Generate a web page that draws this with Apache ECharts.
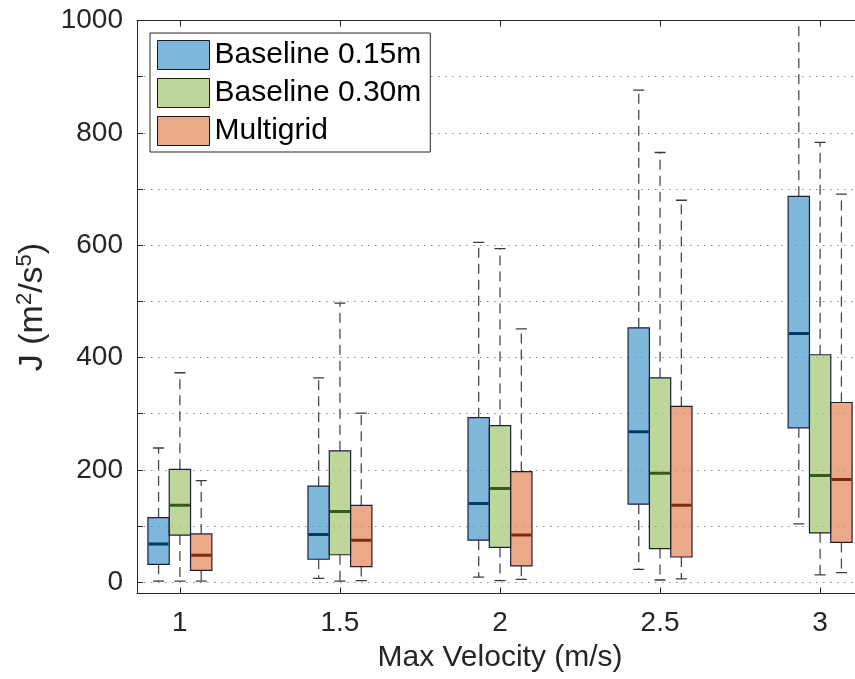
<!DOCTYPE html>
<html>
<head>
<meta charset="utf-8">
<script src="https://cdn.jsdelivr.net/npm/echarts@6/dist/echarts.min.js"></script>
<style>html,body{margin:0;padding:0;background:#fff}#c{width:855px;height:679px}</style>
</head>
<body>
<div id="c"></div>
<script>
// ---- data ----
const categories = ['1', '1.5', '2', '2.5', '3'];
const xValues = [1, 1.5, 2, 2.5, 3];
const seriesNames = ['Baseline 0.15m', 'Baseline 0.30m', 'Multigrid'];
// each row: [lower whisker, Q1, median, Q3, upper whisker]
const baseline015 = [
  [2, 32, 68, 115, 239],
  [7, 41, 85, 171, 364],
  [9, 75, 140, 293, 605],
  [23, 139, 268, 453, 876],
  [104, 275, 443, 687, 1090]
];
const baseline030 = [
  [2, 84, 137, 201, 373],
  [2, 49, 126, 234, 497],
  [3, 62, 167, 279, 594],
  [4, 60, 194, 364, 765],
  [13, 88, 190, 405, 783]
];
const multigrid = [
  [2, 21, 48, 86, 181],
  [3, 28, 75, 137, 301],
  [5, 29, 84, 197, 451],
  [6, 45, 137, 313, 680],
  [17, 71, 183, 320, 691]
];
const yTickLabels = [0, 200, 400, 600, 800, 1000];
const yTicks = [0, 100, 200, 300, 400, 500, 600, 700, 800, 900, 1000];

// ---- styling ----
const fills = ['rgba(71,151,205,0.7)', 'rgba(161,198,111,0.7)', 'rgba(228,132,88,0.7)'];
const medians = ['#003C64', '#3B5A1A', '#7A2C0C'];
const offsets = [-0.0666, 0, 0.0666];
const BOX_W = 0.0666;
const textColor = '#262626';
const FONT = '"Liberation Sans", Arial, Helvetica, sans-serif';

function makeRender(si) {
  return function (params, api) {
    const x = api.value(0) + offsets[si];
    const lo = api.value(1), q1 = api.value(2), med = api.value(3), q3 = api.value(4), hi = api.value(5);
    const pHi = api.coord([x, hi]), pQ3 = api.coord([x, q3]), pMed = api.coord([x, med]);
    const pQ1 = api.coord([x, q1]), pLo = api.coord([x, lo]);
    const cx = pHi[0];
    const halfW = api.size([BOX_W, 0])[0] / 2;
    const capHalf = 5.5;
    const wStyle = { stroke: '#4a4a4a', lineWidth: 1.3, lineDash: [10, 6] };
    const cStyle = { stroke: '#3a3a3a', lineWidth: 1.3 };
    return {
      type: 'group',
      children: [
        { type: 'line', shape: { x1: cx, y1: pQ3[1], x2: cx, y2: pHi[1] }, style: wStyle },
        { type: 'line', shape: { x1: cx, y1: pQ1[1], x2: cx, y2: pLo[1] }, style: wStyle },
        { type: 'line', shape: { x1: cx - capHalf, y1: pHi[1], x2: cx + capHalf, y2: pHi[1] }, style: cStyle },
        { type: 'line', shape: { x1: cx - capHalf, y1: pLo[1], x2: cx + capHalf, y2: pLo[1] }, style: cStyle },
        { type: 'rect', shape: { x: cx - halfW, y: pQ3[1], width: 2 * halfW, height: pQ1[1] - pQ3[1] },
          style: { fill: fills[si], stroke: '#1d1d3b', lineWidth: 1.2 } },
        { type: 'line', shape: { x1: cx - halfW + 0.6, y1: pMed[1], x2: cx + halfW - 0.6, y2: pMed[1] },
          style: { stroke: medians[si], lineWidth: 3 } }
      ]
    };
  };
}

const allStats = [baseline015, baseline030, multigrid];
const series = allStats.map((stats, si) => ({
  name: seriesNames[si],
  type: 'custom',
  clip: true,
  renderItem: makeRender(si),
  itemStyle: { color: fills[si] },
  encode: { x: 0, y: [1, 2, 3, 4, 5] },
  data: xValues.map((xv, i) => [xv].concat(stats[i]))
}));

const chart = echarts.init(document.getElementById('c'), null, { renderer: 'canvas' });
chart.setOption({
  animation: false,
  backgroundColor: '#fff',
  textStyle: { fontFamily: FONT },
  grid: { left: 137, right: -8, top: 20.5, bottom: 85.5, containLabel: false, outerBoundsMode: 'none' },
  legend: {
    orient: 'vertical',
    left: 150, top: 33,
    padding: [7, 9, 6, 7],
    itemGap: 8,
    itemWidth: 52, itemHeight: 29,
    icon: 'rect',
    selectedMode: false,
    backgroundColor: '#fff',
    borderColor: '#262626', borderWidth: 1,
    itemStyle: { borderColor: '#1a1a1a', borderWidth: 1 },
    textStyle: { fontSize: 30, color: '#000', fontFamily: FONT },
    data: seriesNames
  },
  xAxis: [{
    type: 'value',
    min: 0.866, max: 3.134,
    name: 'Max Velocity (m/s)',
    nameLocation: 'middle',
    nameGap: 43,
    nameTextStyle: { fontSize: 30, color: textColor, fontFamily: FONT },
    axisLine: { show: true, onZero: false, lineStyle: { color: textColor, width: 1 } },
    axisTick: { show: true, inside: true, length: 6, customValues: xValues, lineStyle: { color: textColor } },
    axisLabel: { customValues: xValues, fontSize: 28, color: textColor, margin: 16, fontFamily: FONT,
      formatter: v => categories[xValues.indexOf(v)] },
    splitLine: { show: false }
  }, {
    type: 'value',
    position: 'top',
    min: 0.866, max: 3.134,
    axisLine: { show: true, onZero: false, lineStyle: { color: textColor, width: 1 } },
    axisTick: { show: true, inside: true, length: 6, customValues: xValues, lineStyle: { color: textColor } },
    axisLabel: { show: false },
    splitLine: { show: false }
  }],
  yAxis: {
    type: 'value',
    min: -20, max: 1000,
    name: '{b|J (m}{s|2}{b|/s}{s|5}{b|)}',
    nameLocation: 'middle',
    nameRotate: 90,
    nameGap: 80,
    nameTextStyle: {
      color: textColor, fontFamily: FONT,
      rich: {
        b: { fontSize: 34, color: textColor, fontFamily: FONT, lineHeight: 38 },
        s: { fontSize: 22, color: textColor, fontFamily: FONT, verticalAlign: 'top', lineHeight: 38 }
      }
    },
    axisLine: { show: true, onZero: false, lineStyle: { color: textColor, width: 1 } },
    axisTick: { show: true, inside: true, length: 6, customValues: yTicks, lineStyle: { color: textColor } },
    axisLabel: { customValues: yTickLabels, fontSize: 28, color: textColor, margin: 14, fontFamily: FONT,
      formatter: v => String(v) },
    splitLine: { show: true, lineStyle: { color: '#8a8a8a', width: 1, type: [1.5, 5.5] } }
  },
  series: series
});
</script>
</body>
</html>
